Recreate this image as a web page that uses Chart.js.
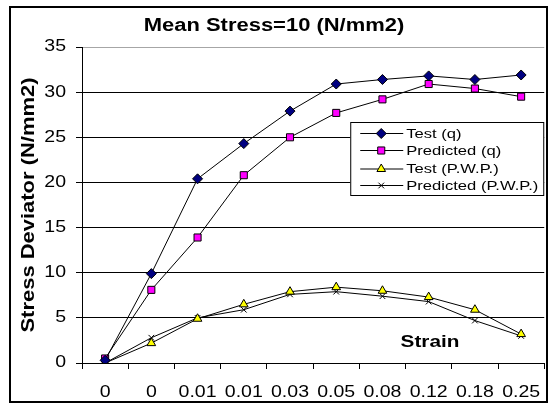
<!DOCTYPE html>
<html>
<head>
<meta charset="utf-8">
<script src="https://cdn.jsdelivr.net/npm/chart.js@4"></script>
<style>
html,body{margin:0;padding:0;background:#fff;}
canvas{display:block;}
</style>
</head>
<body>
<canvas id="c" width="551" height="405"></canvas>
<script>
const categories = ['0','0','0.01','0.01','0.03','0.05','0.08','0.12','0.18','0.25'];
const testQ   = [0.3, 9.9, 20.4, 24.3, 27.9, 30.9, 31.4, 31.8, 31.4, 31.9];
const predQ   = [0.5, 8.1, 13.9, 20.8, 25.0, 27.7, 29.2, 30.9, 30.4, 29.5];
const testPWP = [0, 2.2, 4.9, 6.5, 7.9, 8.4, 8.0, 7.3, 5.9, 3.2];
const predPWP = [0, 2.8, 5.0, 5.9, 7.6, 7.9, 7.4, 6.8, 4.7, 3.0];
const seriesNames = ['Test (q)', 'Predicted (q)', 'Test (P.W.P.)', 'Predicted (P.W.P.)'];
const yTicks = [0, 5, 10, 15, 20, 25, 30, 35];

const FONT = "'Liberation Sans', Arial, sans-serif";
const SX = 1.22; // horizontal text stretch of the original rendering

const stretchPlugin = {
  id: 'stretch',
  beforeInit(chart) {
    const ctx = chart.ctx;
    const orig = ctx.fillText.bind(ctx);
    ctx.fillText = function (t, x, y) {
      ctx.save();
      ctx.translate(x, y);
      ctx.scale(SX, 1);
      orig(t, 0, 0);
      ctx.restore();
    };
  }
};

const decorPlugin = {
  id: 'decor',
  beforeDraw(chart) {
    const ctx = chart.ctx;
    ctx.save();
    ctx.fillStyle = '#fff';
    ctx.fillRect(0, 0, chart.width, chart.height);
    ctx.restore();
  },
  afterDatasetsDraw(chart) {
    const ctx = chart.ctx;
    const ca = chart.chartArea;
    // "Strain" label inside the plot
    ctx.save();
    ctx.fillStyle = '#000';
    ctx.font = 'bold 17px ' + FONT;
    ctx.textAlign = 'center';
    ctx.textBaseline = 'middle';
    ctx.fillText('Strain', ca.left + 348, ca.bottom - 21);
    ctx.restore();

    // Legend box
    const bx = ca.right - 194, by = ca.top + 75, bw = 194, bh = 74;
    ctx.save();
    ctx.fillStyle = '#fff';
    ctx.fillRect(bx, by, bw, bh);
    ctx.strokeStyle = '#000';
    ctx.lineWidth = 1;
    ctx.strokeRect(bx + 0.5, by + 0.5, bw - 1, bh - 1);
    const rows = [11, 28, 46.5, 63];
    chart.data.datasets.forEach((ds, i) => {
      const y = by + rows[i];
      ctx.strokeStyle = '#000';
      ctx.lineWidth = 1;
      ctx.beginPath();
      ctx.moveTo(bx + 10, y + 0.5);
      ctx.lineTo(bx + 53, y + 0.5);
      ctx.stroke();
      ctx.fillStyle = ds.pointBackgroundColor;
      ctx.strokeStyle = ds.pointBorderColor;
      ctx.lineWidth = ds.pointBorderWidth;
      Chart.helpers.drawPoint(ctx, {pointStyle: ds.pointStyle, radius: ds.pointRadius, borderWidth: ds.pointBorderWidth, rotation: 0}, bx + 31, y + 0.5);
      ctx.fillStyle = '#000';
      ctx.font = '13.6px ' + FONT;
      ctx.textAlign = 'left';
      ctx.textBaseline = 'middle';
      ctx.fillText(ds.label, bx + 56, y + 1);
    });
    ctx.restore();
  },
  afterDraw(chart) {
    const ctx = chart.ctx;
    ctx.save();
    ctx.strokeStyle = '#000';
    ctx.lineWidth = 2;
    ctx.strokeRect(10, 7, 537, 395);
    ctx.restore();
  }
};

function mk(label, data, style, bg, radius) {
  return {
    label: label,
    data: data,
    borderColor: '#000',
    borderWidth: 1,
    tension: 0,
    fill: false,
    pointStyle: style,
    pointRadius: radius,
    pointHoverRadius: radius,
    pointBackgroundColor: bg,
    pointBorderColor: '#000',
    pointBorderWidth: 1
  };
}

new Chart(document.getElementById('c'), {
  type: 'line',
  data: {
    labels: categories,
    datasets: [
      mk(seriesNames[0], testQ, 'rectRot', '#000080', 5),
      mk(seriesNames[1], predQ, 'rect', '#ff00ff', 5),
      mk(seriesNames[2], testPWP, 'triangle', '#ffff00', 5),
      mk(seriesNames[3], predPWP, 'crossRot', '#000', 4)
    ]
  },
  options: {
    responsive: false,
    animation: false,
    devicePixelRatio: 1,
    layout: {padding: {top: 0, left: 0, right: 3, bottom: 0}},
    plugins: {
      legend: {display: false},
      tooltip: {enabled: false},
      title: {
        display: true,
        text: 'Mean Stress=10 (N/mm2)',
        color: '#000',
        font: {family: FONT, size: 18, weight: 'bold'},
        padding: {top: 15, bottom: 10.4}
      }
    },
    scales: {
      x: {
        type: 'category',
        offset: true,
        grid: {display: true, offset: true, drawOnChartArea: false, drawTicks: true, tickLength: 6, color: '#000'},
        border: {color: '#000', width: 1},
        ticks: {color: '#000', font: {family: FONT, size: 16}, padding: 14, maxRotation: 0, autoSkip: false},
        afterFit(s) { s.height = 42; }
      },
      y: {
        min: 0,
        max: 35,
        afterBuildTicks(s) { s.ticks = yTicks.map(v => ({value: v})); },
        grid: {
          color: ctx => (ctx.tick && ctx.tick.value === 35) ? '#a6a6a6' : '#000',
          tickColor: '#000',
          tickLength: 6,
          lineWidth: 1
        },
        border: {color: '#000', width: 1},
        ticks: {color: '#000', font: {family: FONT, size: 16}, padding: 10},
        title: {
          display: true,
          text: 'Stress Deviator (N/mm2)',
          color: '#000',
          font: {family: FONT, size: 18, weight: 'bold'},
          padding: {top: 18, bottom: 0}
        },
        afterFit(s) { s.width = 82; }
      }
    }
  },
  plugins: [stretchPlugin, decorPlugin]
});
</script>
</body>
</html>
